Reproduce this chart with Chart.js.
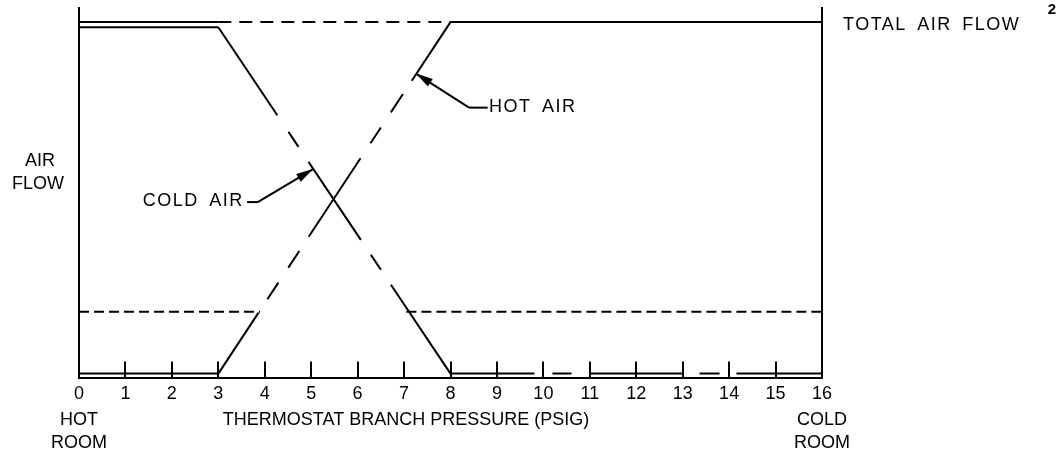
<!DOCTYPE html>
<html><head><meta charset="utf-8">
<script src="https://cdn.jsdelivr.net/npm/chart.js@4"></script>
<style>html,body{margin:0;padding:0;background:#fff}#wrap{width:1061px;height:455px;position:relative}</style>
</head><body><div id="wrap"><canvas id="c"></canvas></div>
<script>
// ---- data ----
const pressure      = [0, 3, 8, 16];           // thermostat branch pressure breakpoints (psig)
const totalAirFlow  = [96.2, 96.2, 96.2, 96.2];
const hotAirFlow    = [1.3, 1.3, 96.2, 96.2];
const coldAirFlow   = [94.8, 94.8, 1.3, 1.3];
const minFlowLeftX  = [0, 3.9];
const minFlowRightX = [7.05, 16];
const minFlow       = [18, 18];
const tickLabels    = ['0','1','2','3','4','5','6','7','8','9','10','11','12','13','14','15','16'];
const innerTicks    = [1,2,3,4,5,6,7,8,9,10,11,12,13,14,15];

const pts = (xs, ys) => xs.map((x, i) => ({x, y: ys[i]}));

const FONT = "'Liberation Sans', Arial, sans-serif";
const hotDash  = [73,16,20,18,20,17,94,18,19,18,22,16,71,400];
const coldDash = [106,20,18,18,94,18,18,18,108,400];
const coldBottomDash = [84,18,19,18,93,17,20,17,85,400];

const annot = {
  id: 'annot',
  afterDraw(chart) {
    const {ctx, chartArea: ca} = chart;
    const xs = chart.scales.x, ys = chart.scales.y;
    const X = v => xs.getPixelForValue(v), Y = v => ys.getPixelForValue(v);
    ctx.save();
    ctx.strokeStyle = '#000'; ctx.fillStyle = '#000'; ctx.lineWidth = 2; ctx.lineCap = 'butt';
    // inward tick marks
    innerTicks.forEach(t => {
      const px = Math.round(X(t));
      ctx.beginPath(); ctx.moveTo(px, ca.bottom); ctx.lineTo(px, ca.bottom - 17); ctx.stroke();
    });
    const text = (s, x, y, align, size, ls, ws, weight) => {
      ctx.font = (weight ? weight + ' ' : '') + (size || 18) + 'px ' + FONT;
      ctx.textAlign = align || 'center'; ctx.textBaseline = 'middle';
      ctx.letterSpacing = ls ? ls + 'px' : '0px';
      ctx.wordSpacing = ws ? ws + 'px' : '0px';
      ctx.fillText(s, x, y);
      ctx.letterSpacing = '0px'; ctx.wordSpacing = '0px';
    };
    const arrow = (x1, y1, x2, y2) => {
      ctx.beginPath(); ctx.moveTo(x1, y1); ctx.lineTo(x2, y2); ctx.stroke();
      const a = Math.atan2(y2 - y1, x2 - x1), L = 17, W = 4.5;
      ctx.beginPath();
      ctx.moveTo(x2, y2);
      ctx.lineTo(x2 - L*Math.cos(a) + W*Math.sin(a), y2 - L*Math.sin(a) - W*Math.cos(a));
      ctx.lineTo(x2 - L*Math.cos(a) - W*Math.sin(a), y2 - L*Math.sin(a) + W*Math.cos(a));
      ctx.closePath(); ctx.fill();
    };
    // HOT AIR callout
    ctx.beginPath(); ctx.moveTo(X(8.40), Y(73.1)); ctx.lineTo(X(8.80), Y(73.1)); ctx.stroke();
    arrow(X(8.40), Y(73.1), X(7.257), Y(82.3));
    text('HOT AIR', X(8.83), Y(73.3), 'left', 18, 1.5, 4);
    // COLD AIR callout
    ctx.beginPath(); ctx.moveTo(X(3.62), Y(47.6)); ctx.lineTo(X(3.85), Y(47.6)); ctx.stroke();
    arrow(X(3.85), Y(47.6), X(5.04), Y(56.5));
    text('COLD AIR', X(3.55), Y(47.8), 'right', 18, 1.5, 4);
    // axis texts
    text('AIR', 40, 161); text('FLOW', 38, 184);
    text('TOTAL AIR FLOW', ca.right + 21, Y(96.2) + 3, 'left', 18, 1.5, 4);
    text('2', 1052, 10, 'center', 15, 0, 0, 'bold');
    text('THERMOSTAT BRANCH PRESSURE (PSIG)', 406, 420);
    text('HOT', X(0), 420); text('ROOM', X(0), 443);
    text('COLD', X(16), 420); text('ROOM', X(16), 443);
    ctx.restore();
  }
};

const base = {borderColor: '#000', borderWidth: 2, pointRadius: 0, fill: false, tension: 0, borderCapStyle: 'butt', borderJoinStyle: 'miter'};

new Chart(document.getElementById('c'), {
  type: 'line',
  data: {
    datasets: [
      Object.assign({label: 'Total air flow', data: pts(pressure, totalAirFlow),
        segment: {borderDash: c => c.p0DataIndex === 1 ? [13, 8] : []}}, base),
      Object.assign({label: 'Hot air', data: pts(pressure, hotAirFlow),
        segment: {borderDash: c => c.p0DataIndex === 1 ? hotDash : []}}, base),
      Object.assign({label: 'Cold air', data: pts(pressure, coldAirFlow),
        segment: {borderDash: c => c.p0DataIndex === 1 ? coldDash : (c.p0DataIndex === 2 ? coldBottomDash : [])}}, base),
      Object.assign({label: 'Min left', data: pts(minFlowLeftX, minFlow), borderDash: [10, 5]}, base),
      Object.assign({label: 'Min right', data: pts(minFlowRightX, minFlow), borderDash: [10, 5]}, base)
    ]
  },
  options: {
    responsive: true, maintainAspectRatio: false, animation: false, devicePixelRatio: 1,
    layout: {padding: {left: 79, right: 239, top: 8, bottom: 45}},
    plugins: {legend: {display: false}, tooltip: {enabled: false}},
    scales: {
      x: {type: 'linear', min: 0, max: 16,
        grid: {display: false, drawTicks: false},
        border: {display: true, color: '#000', width: 2},
        ticks: {stepSize: 1, padding: 5, color: '#000', maxRotation: 0, autoSkip: false,
          font: {family: FONT, size: 18},
          callback: (v, i) => tickLabels[i]}},
      y: {type: 'linear', min: 0, max: 100, position: 'left',
        grid: {display: false, drawTicks: false},
        border: {display: true, color: '#000', width: 2},
        ticks: {display: false}},
      y2: {type: 'linear', min: 0, max: 100, position: 'right',
        grid: {display: false, drawTicks: false},
        border: {display: true, color: '#000', width: 2},
        ticks: {display: false}}
    }
  },
  plugins: [annot]
});
</script></body></html>
